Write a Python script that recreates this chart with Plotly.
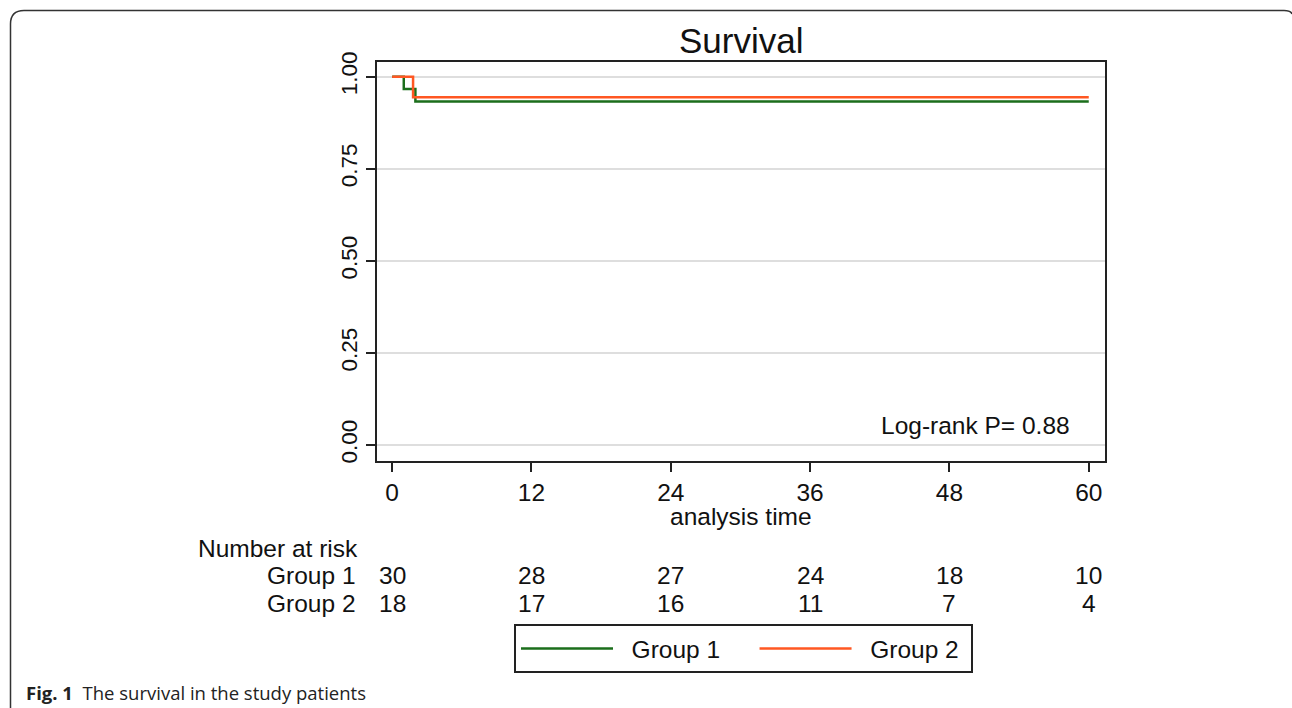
import plotly.graph_objects as go

# ---- data ----
g1_time = [0, 1, 2, 60]
g1_surv = [1.0, 0.967, 0.933, 0.933]
g2_time = [0, 1.8, 60]
g2_surv = [1.0, 0.944, 0.944]

risk_times = [0, 12, 24, 36, 48, 60]
risk_g1 = [30, 28, 27, 24, 18, 10]
risk_g2 = [18, 17, 16, 11, 7, 4]

x_ticks = [0, 12, 24, 36, 48, 60]
y_ticks = [0.0, 0.25, 0.5, 0.75, 1.0]

W, H = 1292, 708
FONT = "Liberation Sans, Arial, sans-serif"
FS = 24.5
GREEN = "#1b6e1b"
ORANGE = "#ff5722"
NB = "\u00a0"
EN = "\u2002"
THIN = "\u2009"


def px_x(p):
    return p / W


def px_y(p):
    return 1 - p / H


fig = go.Figure()
fig.add_trace(go.Scatter(x=g1_time, y=g1_surv, mode="lines", line_shape="hv",
                         line=dict(color=GREEN, width=2.5),
                         name=NB * 2 + "Group 1" + EN * 2 + THIN))
fig.add_trace(go.Scatter(x=g2_time, y=g2_surv, mode="lines", line_shape="hv",
                         line=dict(color=ORANGE, width=2.5), name=NB * 2 + "Group 2" + NB))

axis_common = dict(showline=True, linecolor="#222", linewidth=2, mirror=True,
                   ticks="outside", ticklen=9, tickwidth=2, tickcolor="#222",
                   automargin=False)

fig.update_xaxes(range=[-1.35, 61.4], tickvals=x_ticks, showgrid=False,
                 zeroline=False, domain=[px_x(376.5), px_x(1105)],
                 tickfont=dict(family=FONT, size=FS, color="#111"),
                 **axis_common)
fig.update_yaxes(range=[-0.042, 1.04], tickvals=y_ticks, tickformat=".2f",
                 tickangle=-90, showgrid=True, gridcolor="#dedede", gridwidth=2,
                 zeroline=False, domain=[px_y(460.5), px_y(62)],
                 tickfont=dict(family=FONT, size=22.5, color="#111"),
                 **axis_common)

annotations = []
annotations.append(dict(text="Survival", x=0.5, xref="x domain", y=px_y(40), yref="paper",
                        showarrow=False, font=dict(family=FONT, size=35, color="#111"),
                        xanchor="center", yanchor="middle"))
annotations.append(dict(text="analysis time", x=0.5, xref="x domain", y=px_y(516), yref="paper",
                        showarrow=False, font=dict(family=FONT, size=FS, color="#111"),
                        xanchor="center", yanchor="middle"))
annotations.append(dict(text="Log-rank P= 0.88", x=px_x(1072), xref="paper", y=px_y(426),
                        yref="paper", showarrow=False, xanchor="right", yanchor="middle",
                        font=dict(family=FONT, size=FS, color="#111")))
annotations.append(dict(text="Number at risk", x=px_x(196), xref="paper", y=px_y(548),
                        yref="paper", showarrow=False, xanchor="left", yanchor="middle",
                        font=dict(family=FONT, size=FS, color="#111")))
for label, vals, ypix in (("Group 1", risk_g1, 575), ("Group 2", risk_g2, 603)):
    annotations.append(dict(text=label, x=px_x(358), xref="paper", y=px_y(ypix), yref="paper",
                            showarrow=False, xanchor="right", yanchor="middle",
                            font=dict(family=FONT, size=FS, color="#111")))
    for t, v in zip(risk_times, vals):
        annotations.append(dict(text=str(v), x=t, xref="x", y=px_y(ypix), yref="paper",
                                showarrow=False, xanchor="center", yanchor="middle",
                                font=dict(family=FONT, size=FS, color="#111")))
annotations.append(dict(text="<b>Fig. 1</b>  The survival in the study patients",
                        x=px_x(24), xref="paper", y=px_y(692), yref="paper",
                        showarrow=False, xanchor="left", yanchor="middle",
                        font=dict(family="Open Sans, Noto Sans, sans-serif", size=18.5, color="#222")))

# outer rounded frame
frame = (f"M {px_x(10.5)},0 L {px_x(10.5)},{px_y(24)} "
         f"Q {px_x(10.5)},{px_y(10.5)} {px_x(24)},{px_y(10.5)} "
         f"L {px_x(1284)},{px_y(10.5)} Q {px_x(1291)},{px_y(10.5)} {px_x(1292)},{px_y(14)}")

fig.update_layout(
    width=W, height=H, margin=dict(l=0, r=0, t=0, b=0, pad=0, autoexpand=False),
    paper_bgcolor="white", plot_bgcolor="white",
    annotations=annotations,
    shapes=[dict(type="path", path=frame, xref="paper", yref="paper",
                 line=dict(color="#333", width=1.5))],
    showlegend=True,
    legend=dict(orientation="h", x=px_x(514), y=px_y(624), xanchor="left", yanchor="top",
                bgcolor="white", bordercolor="#222", borderwidth=2,
                font=dict(family=FONT, size=FS, color="#111"),
                itemwidth=92, tracegroupgap=0),
)

post = ("document.body.style.margin='0';document.body.style.padding='0';"
        "var gd=document.getElementById('{plot_id}');"
        "gd.style.position='absolute';gd.style.top='0px';gd.style.left='0px';")
fig.write_html("out.html", post_script=post, config={"displayModeBar": False})
